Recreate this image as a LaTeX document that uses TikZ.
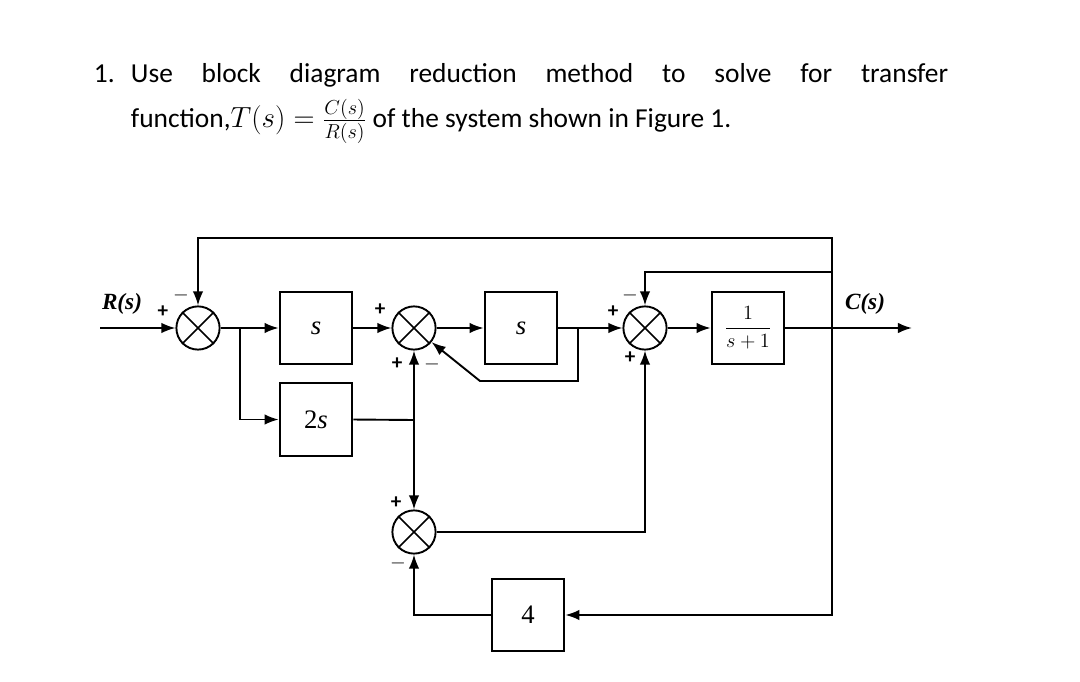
\documentclass[tikz,border=0pt]{standalone}
\usepackage{fontspec}
\setmainfont{Carlito}
\newfontfamily\diagfont{Liberation Serif}
\usetikzlibrary{arrows.meta, positioning}

\begin{document}
\begin{tikzpicture}[x=0.025cm, y=-0.025cm,
  txt/.style   = {anchor=base west, inner sep=0pt, font=\fontsize{19.5}{23}\selectfont},
  block/.style = {draw, rectangle, minimum size=1.82cm, inner sep=0pt, font=\diagfont\fontsize{19}{22}\selectfont},
  sum/.style   = {draw, circle, minimum size=1.08cm, inner sep=0pt},
  sign/.style  = {inner sep=0pt, font=\bfseries\fontsize{15}{17}\selectfont},
  lbl/.style   = {inner sep=0pt, font=\diagfont\bfseries\itshape\fontsize{16.5}{19}\selectfont},
  line width=1.35pt, >={Latex[length=10pt,width=7.5pt]}]

\useasboundingbox (0,0) rectangle (1080,682);

% the question text
\node[txt] (num) at (93,83) {1.};
\node[txt] (line1) at (130,83) {\makebox[20.425cm][s]{Use block diagram reduction method to solve for transfer}};
\node[txt] (line2) at (130,128) {function,$T(s) = \frac{C(s)}{R(s)}$ of the system shown in Figure 1.};

% summing points
\node[sum] (s1) at (198,328) {};
\node[sum] (s2) at (414,328) {};
\node[sum] (s4) at (645,328) {};
\node[sum] (s3) at (414,532) {};
\foreach \s in {s1,s2,s3,s4}
  \draw[line width=1.1pt] (\s.45) -- (\s.225) (\s.135) -- (\s.315);

% blocks
\node[block] (g1) at (316,328) {\textit{s}};
\node[block, below=0.42cm of g1] (g3) {2\textit{s}};
\node[block] (g2) at (521,328) {\textit{s}};
\node[block, font=\diagfont\fontsize{14}{16}\selectfont] (g4) at (748,328) {$\displaystyle\frac{1}{s+1}$};
\node[block] (g5) at (528,615) {4};

% branch points and free ends
\coordinate (in) at (100,328);
\coordinate (out) at (912,328);
\coordinate (b1) at (240,328);
\coordinate (b2) at (578,328);
\coordinate (b3) at (414,420);
\coordinate (b4) at (832,328);
\coordinate (d1) at (480,381);
\coordinate (f1) at (832,238);
\coordinate (f2) at (832,272);

% labels
\node[lbl] (rs) at (122,304) {R(s)};
\node[lbl] (cs) at (865,304) {C(s)};

% signs at the summing points
\node[sign] at (163,312) {+};
\node[sign] at (181,295) {$-$};
\node[sign] at (380,310) {+};
\node[sign] at (397,364) {+};
\node[sign] at (432,364) {$-$};
\node[sign] at (613,312) {+};
\node[sign] at (630,295) {$-$};
\node[sign] at (630,358) {+};
\node[sign] at (396,503) {+};
\node[sign] at (398,563) {$-$};

%------------------------------------ forward path ------------------------------------
\draw[->] (in) -- (s1);
\draw[->] (s1) -- (g1);
\draw[->] (b1) |- (g3.west);
\draw[->] (g1) -- (s2);
\draw[->] (s2) -- (g2);
\draw[->] (g2) -- (s4);
\draw[->] (s4) -- (g4);
\draw[->] (g4) -- (out);

%------------------------------------ inner loops -------------------------------------
\draw[->] (b2) |- (d1) -- (s2);
\draw (g3.east) -- (b3);
\draw[->] (b3) -- (s2);
\draw[->] (b3) -- (s3);
\draw[->] (s3) -| (s4);

%------------------------------------ feedback from C(s) ------------------------------
\draw[->] (b4) -- (f1) -| (s1);
\draw[->] (f2) -| (s4);
\draw[->] (b4) |- (g5.east);
\draw[->] (g5) -| (s3);

\end{tikzpicture}
\end{document}
